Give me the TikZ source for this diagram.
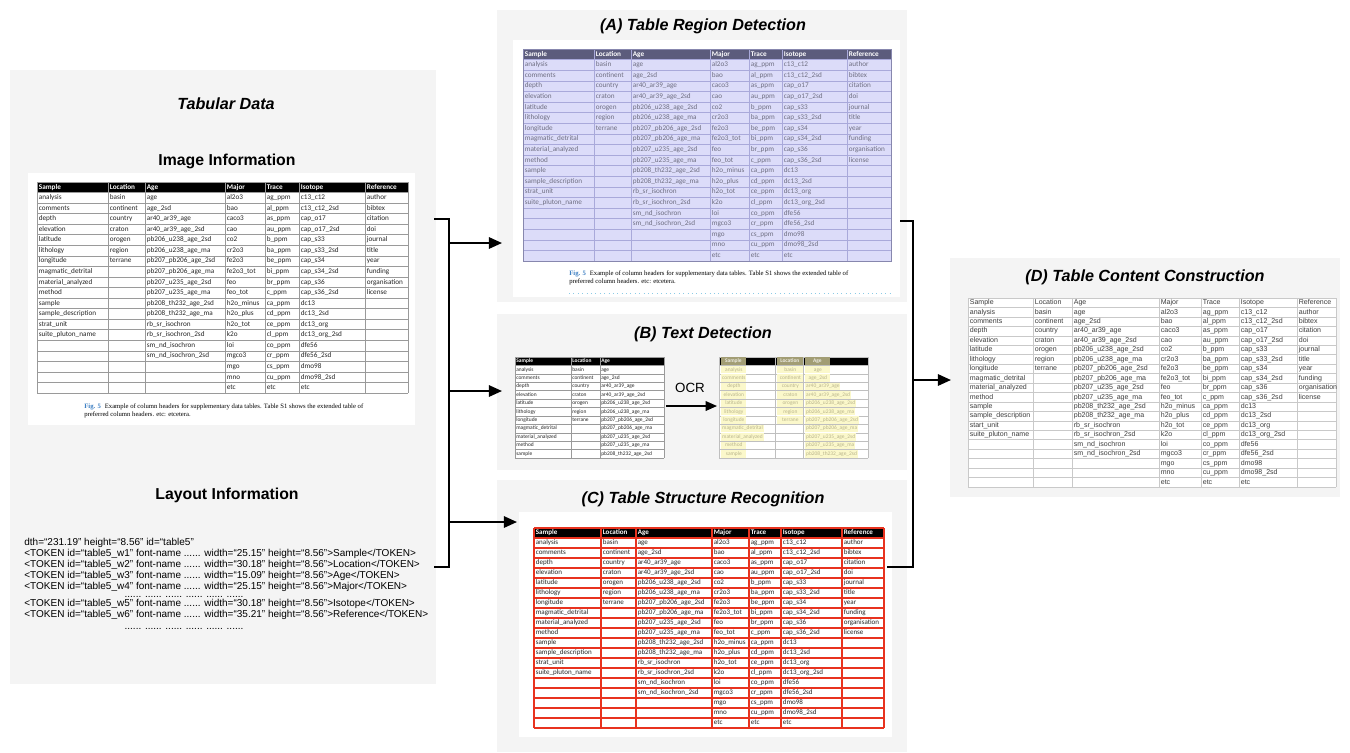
\documentclass[tikz,border=0pt]{standalone}
\usepackage{fontspec}
\usetikzlibrary{arrows.meta,fit}
\newfontfamily\tabfont{Carlito}
\newfontfamily\helv{Liberation Sans}
\newfontfamily\serf{Liberation Serif}
\definecolor{panelbg}{HTML}{F4F4F4}
\definecolor{gridgray}{HTML}{9A9A9A}
\definecolor{lav}{HTML}{DCDCF9}
\definecolor{lavline}{HTML}{A9A9DA}
\definecolor{lavhead}{HTML}{5C5C7C}
\definecolor{lavtext}{HTML}{6F6F82}
\definecolor{redline}{HTML}{E8331F}
\definecolor{hlyellow}{HTML}{FBF8CB}
\definecolor{hltext}{HTML}{B9B48C}
\definecolor{hlhead}{HTML}{A29D74}
\definecolor{figblue}{HTML}{3A7DC2}
\definecolor{dotblue}{HTML}{8CCBE6}
\definecolor{dline}{HTML}{C9C9C9}
\definecolor{dtext}{HTML}{3C3C3C}

% column contents of the header table
\def\cSa{Sample,analysis,comments,depth,elevation,latitude,lithology,longitude,magmatic\_detrital,material\_analyzed,method,sample,sample\_description,strat\_unit,suite\_pluton\_name}
\def\cSaD{Sample,analysis,comments,depth,elevation,latitude,lithology,longitude,magmatic\_detrital,material\_analyzed,method,sample,sample\_description,start\_unit,suite\_pluton\_name}
\def\cLo{Location,basin,continent,country,craton,orogen,region,terrane}
\def\cAg{Age,age,age\_2sd,ar40\_ar39\_age,ar40\_ar39\_age\_2sd,pb206\_u238\_age\_2sd,pb206\_u238\_age\_ma,pb207\_pb206\_age\_2sd,pb207\_pb206\_age\_ma,pb207\_u235\_age\_2sd,pb207\_u235\_age\_ma,pb208\_th232\_age\_2sd,pb208\_th232\_age\_ma,rb\_sr\_isochron,rb\_sr\_isochron\_2sd,sm\_nd\_isochron,sm\_nd\_isochron\_2sd}
\def\cMa{Major,al2o3,bao,caco3,cao,co2,cr2o3,fe2o3,fe2o3\_tot,feo,feo\_tot,h2o\_minus,h2o\_plus,h2o\_tot,k2o,loi,mgco3,mgo,mno,etc}
\def\cTr{Trace,ag\_ppm,al\_ppm,as\_ppm,au\_ppm,b\_ppm,ba\_ppm,be\_ppm,bi\_ppm,br\_ppm,c\_ppm,ca\_ppm,cd\_ppm,ce\_ppm,cl\_ppm,co\_ppm,cr\_ppm,cs\_ppm,cu\_ppm,etc}
\def\cIs{Isotope,c13\_c12,c13\_c12\_2sd,cap\_o17,cap\_o17\_2sd,cap\_s33,cap\_s33\_2sd,cap\_s34,cap\_s34\_2sd,cap\_s36,cap\_s36\_2sd,dc13,dc13\_2sd,dc13\_org,dc13\_org\_2sd,dfe56,dfe56\_2sd,dmo98,dmo98\_2sd,etc}
\def\cRe{Reference,author,bibtex,citation,doi,journal,title,year,funding,organisation,license}

% #1 column x list, #2 left, #3 right, #4 top, #5 row height, #6 rows, #7 line style
\newcommand\gridlines[7]{%
  \foreach \xx in {#1} {\draw[#7] (\xx,#4) -- (\xx,#4+#6*#5);}
  \draw[#7] (#3,#4) -- (#3,#4+#6*#5);
  \foreach \r in {0,...,#6} {\draw[#7] (#2,#4+\r*#5) -- (#3,#4+\r*#5);}
}
% #1 name prefix, #2 list, #3 x, #4 top, #5 row height, #6 rows shown, #7 extra options
\newcommand\putcol[7]{%
  \foreach \t [count=\i from 0] in #2 {%
    \ifnum\i<#6\relax
      \ifnum\i=0\relax
        \node[hdr,#7] (#1-\i) at (#3,#4+0.5*#5) {\t};
      \else
        \node[cell,#7] (#1-\i) at (#3,#4+\i*#5+0.5*#5) {\t};
      \fi
    \fi
  }%
}
\newcommand\setcols[7]{\def\xa{#1}\def\xb{#2}\def\xc{#3}\def\xd{#4}\def\xe{#5}\def\xf{#6}\def\xg{#7}}
% #1 prefix, #2 top, #3 row height, #4 rows, #5 first column list
\newcommand\putall[5]{%
  \putcol{#1a}{#5}{\xa}{#2}{#3}{#4}{}%
  \putcol{#1b}{\cLo}{\xb}{#2}{#3}{#4}{}%
  \putcol{#1c}{\cAg}{\xc}{#2}{#3}{#4}{}%
  \putcol{#1d}{\cMa}{\xd}{#2}{#3}{#4}{}%
  \putcol{#1e}{\cTr}{\xe}{#2}{#3}{#4}{}%
  \putcol{#1f}{\cIs}{\xf}{#2}{#3}{#4}{}%
  \putcol{#1g}{\cRe}{\xg}{#2}{#3}{#4}{}%
}

\begin{document}
\begin{tikzpicture}[x=0.02cm,y=-0.02cm,
  panel/.style={fill=panelbg,inner sep=0pt,draw=none},
  paper/.style={fill=white,inner sep=0pt,draw=none},
  ptitle/.style={inner sep=0pt,font=\helv\bfseries\itshape\fontsize{9.2}{11}\selectfont},
  stitle/.style={inner sep=0pt,font=\helv\bfseries\fontsize{9}{11}\selectfont},
  conn/.style={line width=1.1pt,black},
  arr/.style={conn,-{Triangle[length=7.5pt,width=6.5pt]}},
  layout/.style={anchor=west,inner sep=0pt,font=\helv\fontsize{5.7}{6.5}\selectfont,text height=4.1pt,text depth=1.1pt},
  dots/.style={anchor=base,inner sep=0pt,font=\helv\fontsize{5.7}{6.5}\selectfont,text height=0.8pt,text depth=0pt},
  capt/.style={anchor=west,inner sep=0pt,font=\serf\fontsize{3.8}{4.6}\selectfont},
  basecell/.style={anchor=west,inner sep=0pt,xshift=0.03cm,text height=3pt,text depth=0.9pt},
]
\useasboundingbox[fill=white] (0,0) rectangle (1350,752);

% panels
\node[panel,fit={(10,70)(436,684)}] (tab) {};
\node[panel,fit={(497,10)(907,302)}] (pA) {};
\node[panel,fit={(497,314)(907,470)}] (pB) {};
\node[panel,fit={(497,480)(907,752)}] (pC) {};
\node[panel,fit={(950,258)(1340,497)}] (pD) {};

% ---------------- tabular data ----------------
\node[ptitle] (tabT) at (226,104) {Tabular Data};
\node[stitle] (imgT) at (227,161) {Image Information};
\node[paper,fit={(28,173)(415,425)}] (imgP) {};
\begin{scope}[
  hdr/.style={basecell,text=white,font=\tabfont\bfseries\fontsize{4.1}{5}\selectfont},
  cell/.style={basecell,text=black!85,font=\tabfont\fontsize{4.1}{5}\selectfont}]
  \fill[black] (37,182) rectangle (408,192.55);
  \gridlines{37,108,145,225,265,299,365}{37}{408}{182}{10.55}{20}{gridgray,line width=0.3pt}
  \setcols{37}{108}{145}{225}{265}{299}{365}
  \putall{t0}{182}{10.55}{20}{\cSa}
\end{scope}
\node[capt] (cap0a) at (84,407) {\textcolor{figblue}{\bfseries Fig. 5}\hspace{0.6em}Example of column headers for supplementary data tables. Table S1 shows the extended table of};
\node[capt] (cap0b) at (84,415) {preferred column headers. etc: etcetera.};

\node[stitle] (layT) at (227,495) {Layout Information};
\node[layout] (l0) at (24,543) {dth=“231.19” height=“8.56” id=“table5”};
\node[layout] (l1) at (24,554) {<TOKEN id=“table5\_w1” font-name ...... width=“25.15” height=“8.56”>Sample</TOKEN>};
\node[layout] (l2) at (24,565) {<TOKEN id=“table5\_w2” font-name ...... width=“30.18” height=“8.56”>Location</TOKEN>};
\node[layout] (l3) at (24,576) {<TOKEN id=“table5\_w3” font-name ...... width=“15.09” height=“8.56”>Age</TOKEN>};
\node[layout] (l4) at (24,587) {<TOKEN id=“table5\_w4” font-name ...... width=“25.15” height=“8.56”>Major</TOKEN>};
\node[dots] (l5) at (184,597) {...... ...... ...... ...... ...... ......};
\node[layout] (l6) at (24,604) {<TOKEN id=“table5\_w5” font-name ...... width=“30.18” height=“8.56”>Isotope</TOKEN>};
\node[layout] (l7) at (24,615) {<TOKEN id=“table5\_w6” font-name ...... width=“35.21” height=“8.56”>Reference</TOKEN>};
\node[dots] (l8) at (184,629) {...... ...... ...... ...... ...... ......};

% ---------------- (A) region detection ----------------
\node[ptitle] (pAT) at (703,26) {(A) Table Region Detection};
\node[paper,fit={(513,40)(900,297)}] (pAP) {};
\begin{scope}[
  hdr/.style={basecell,text=white,font=\tabfont\bfseries\fontsize{4.1}{5}\selectfont},
  cell/.style={basecell,text=lavtext,font=\tabfont\fontsize{4.1}{5}\selectfont}]
  \fill[lav] (523,49) rectangle (891,261);
  \fill[lavhead] (523,49) rectangle (891,59.6);
  \gridlines{523,594,631,710,749,782,847}{523}{891}{49}{10.6}{20}{lavline,line width=0.3pt}
  \draw[lavline!80!black,line width=0.5pt] (523,49) rectangle (891,261);
  \setcols{523}{594}{631}{710}{749}{782}{847}
  \putall{ta}{49}{10.6}{20}{\cSa}
\end{scope}
\node[capt] (capAa) at (569,274) {\textcolor{figblue}{\bfseries Fig. 5}\hspace{0.6em}Example of column headers for supplementary data tables. Table S1 shows the extended table of};
\node[capt] (capAb) at (569,282) {preferred column headers. etc: etcetera.};
\draw[dotblue,line width=0.5pt,dotted] (569,293) -- (891,293);

% ---------------- (B) text detection ----------------
\node[ptitle] (pBT) at (703,334) {(B) Text Detection};
\begin{scope}[
  hdr/.style={basecell,xshift=-0.01cm,text=white,font=\tabfont\bfseries\fontsize{3.1}{4}\selectfont,text height=2.3pt,text depth=0.7pt},
  cell/.style={basecell,xshift=-0.01cm,text=black!85,font=\tabfont\fontsize{3.1}{4}\selectfont,text height=2.3pt,text depth=0.7pt}]
  \fill[white] (515,357) rectangle (664,458);
  \fill[black] (515,357) rectangle (664,365.4);
  \gridlines{515,571,600}{515}{664}{357}{8.42}{12}{gridgray,line width=0.25pt}
  \putcol{tba}{\cSa}{515}{357}{8.42}{12}{}
  \putcol{tbb}{\cLo}{571}{357}{8.42}{12}{}
  \putcol{tbc}{\cAg}{600}{357}{8.42}{12}{}
\end{scope}
\node[inner sep=0pt,font=\helv\fontsize{7.6}{9}\selectfont] (ocr) at (690,388) {OCR};
\coordinate (ocrS) at (666,406);
\coordinate (ocrE) at (717,406);
\draw[line width=0.9pt,-{Triangle[length=6.5pt,width=5.5pt]}] (ocrS) -- (ocrE);
\begin{scope}[
  hdr/.style={basecell,xshift=0cm,inner xsep=0.5pt,fill=hlhead,text=white!80!hlhead,minimum height=0.16cm,font=\tabfont\bfseries\fontsize{3.1}{4}\selectfont,text height=2.3pt,text depth=0.7pt},
  cell/.style={basecell,xshift=0.01cm,inner xsep=0.5pt,fill=hlyellow,text=hltext,minimum height=0.15cm,font=\tabfont\fontsize{3.1}{4}\selectfont,text height=2.3pt,text depth=0.7pt}]
  \fill[white] (719,357) rectangle (868,458);
  \fill[black] (719,357) rectangle (868,365.4);
  \gridlines{719,775,803}{719}{868}{357}{8.42}{12}{black!25,line width=0.25pt}
  \putcol{tca}{\cSa}{719}{357}{8.42}{12}{minimum width=0.5cm}
  \putcol{tcb}{\cLo}{775}{357}{8.42}{12}{minimum width=0.52cm}
  \putcol{tcc}{\cAg}{803}{357}{8.42}{12}{minimum width=0.5cm}
\end{scope}

% ---------------- (C) structure recognition ----------------
\node[ptitle] (pCT) at (703,499) {(C) Table Structure Recognition};
\node[paper,fit={(519,512)(892,737)}] (pCP) {};
\begin{scope}[
  hdr/.style={basecell,text=white,font=\tabfont\bfseries\fontsize{4}{5}\selectfont},
  cell/.style={basecell,text=black!85,font=\tabfont\fontsize{4}{5}\selectfont}]
  \fill[black] (534,528) rectangle (884,538);
  \setcols{534}{601}{636}{712}{749}{781}{842}
  \putall{tc}{528}{10}{20}{\cSa}
  \gridlines{534,601,636,712,749,781,842}{534}{884}{528}{10}{20}{redline,line width=0.75pt}
\end{scope}

% ---------------- (D) content construction ----------------
\node[ptitle] (pDT) at (1145,277) {(D) Table Content Construction};
\begin{scope}[
  hdr/.style={basecell,text=dtext,font=\helv\fontsize{4}{5}\selectfont},
  cell/.style={basecell,text=dtext,font=\helv\fontsize{4}{5}\selectfont}]
  \fill[white] (968,298) rectangle (1336,487);
  \gridlines{968,1033,1072,1159,1201,1239,1297}{968}{1336}{298}{9.45}{20}{dline,line width=0.3pt}
  \setcols{968}{1033}{1072}{1159}{1201}{1239}{1297}
  \putall{td}{298}{9.45}{20}{\cSaD}
\end{scope}

% ---------------- connectors ----------------
\coordinate (lbT) at (434,219);
\coordinate (lbTc) at (449,219);
\coordinate (lbBc) at (449,567);
\coordinate (lbB) at (434,567);
\draw[conn] (lbT) -- (lbTc) -- (lbBc) -- (lbB);
\coordinate (toA) at (502,243);
\coordinate (toB) at (502,391);
\coordinate (toC) at (517,522);
\draw[arr] (toA -| lbTc) -- (toA);
\draw[arr] (toB -| lbTc) -- (toB);
\draw[arr] (toC -| lbTc) -- (toC);

\coordinate (rbA) at (900,221);
\coordinate (rbAc) at (913,221);
\coordinate (rbCc) at (913,567);
\coordinate (rbC) at (887,567);
\draw[conn] (rbA) -- (rbAc) -- (rbCc) -- (rbC);
\coordinate (toD) at (951,380);
\draw[arr] (toD -| rbAc) -- (toD);
\end{tikzpicture}
\end{document}
